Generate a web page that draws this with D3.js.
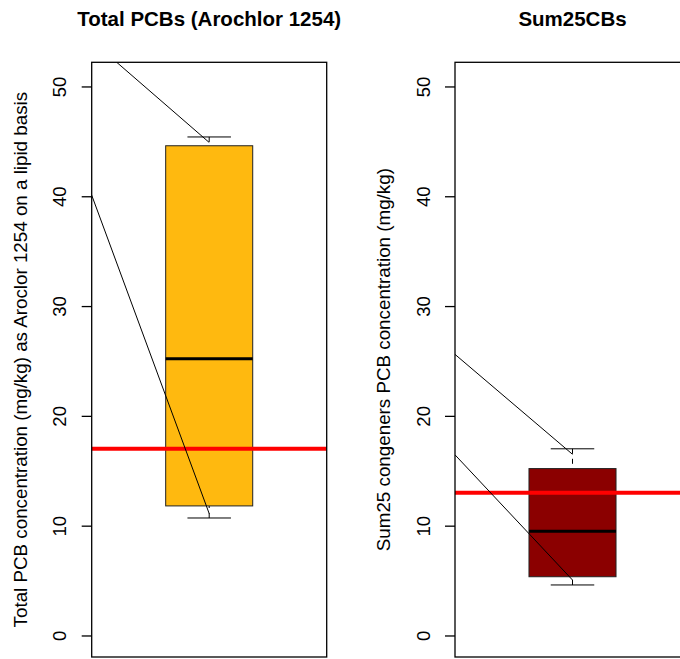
<!DOCTYPE html>
<html>
<head>
<meta charset="utf-8">
<script src="https://cdn.jsdelivr.net/npm/d3@7"></script>
<style>
  body { margin: 0; background: #fff; }
  svg { display: block; font-family: "Liberation Sans", Arial, sans-serif; }
</style>
</head>
<body>
<svg id="chart" width="680" height="659"></svg>
<script>
// panel titles and axis labels
const titles = ["Total PCBs (Arochlor 1254)", "Sum25CBs"];
const yLabels = [
    "Total PCB concentration (mg/kg) as Aroclor 1254 on a lipid basis",
    "Sum25 congeners PCB concentration (mg/kg)"
];
const yTicks = [0, 10, 20, 30, 40, 50];

// box stats: [lower whisker, q1, median, q3, upper whisker]
const boxStats = [
    [10.7, 11.8, 25.2, 44.6, 45.4],
    [4.6, 5.35, 9.5, 15.2, 17.0]
];
const boxColors = ["#FFB90F", "#8B0000"];

// red reference lines (abline h=)
const refLevels = [17.0, 13.0];

// extra segments drawn on each panel: [x0, y0, x1, y1]
const segments = [
    [[0.575, 52.2, 1, 44.9], [0.46, 40.1, 1, 11.1]],
    [[0.46, 25.6, 1, 16.5], [0.46, 16.45, 1, 5.05]]
];

const svg = d3.select("#chart");

const plotTop = 62.3, plotBottom = 657;
const panelLeft = [91.7, 455];
const panelW = 235;

const y = d3.scaleLinear().domain([-1.96, 52.2]).range([plotBottom, plotTop]);

panelLeft.forEach((left, i) => {
    const x = d3.scaleLinear().domain([0.46, 1.54]).range([left, left + panelW]);
    const g = svg.append("g");

    g.append("clipPath").attr("id", "clip" + i)
        .append("rect")
        .attr("x", left).attr("y", plotTop)
        .attr("width", panelW).attr("height", plotBottom - plotTop);

    const plot = g.append("g").attr("clip-path", `url(#clip${i})`);

    const [lo, q1, med, q3, hi] = boxStats[i];
    const bw = 0.4, cw = 0.2;

    // whiskers (dashed, drawn from the end toward the box)
    [[lo, q1], [hi, q3]].forEach(([a, b]) => {
        plot.append("line")
            .attr("x1", x(1)).attr("x2", x(1))
            .attr("y1", y(a)).attr("y2", y(b))
            .attr("stroke", "#000")
            .attr("stroke-dasharray", "5,5");
        plot.append("line")
            .attr("x1", x(1 - cw / 2)).attr("x2", x(1 + cw / 2))
            .attr("y1", y(a)).attr("y2", y(a))
            .attr("stroke", "#000");
    });

    plot.append("rect")
        .attr("x", x(1 - bw / 2))
        .attr("y", y(q3))
        .attr("width", x(1 + bw / 2) - x(1 - bw / 2))
        .attr("height", y(q1) - y(q3))
        .attr("fill", boxColors[i])
        .attr("stroke", "#222")
        .attr("stroke-width", 1);

    plot.append("line")
        .attr("x1", x(1 - bw / 2)).attr("x2", x(1 + bw / 2))
        .attr("y1", y(med)).attr("y2", y(med))
        .attr("stroke", "#000")
        .attr("stroke-width", 3);

    plot.append("line")
        .attr("x1", left).attr("x2", left + panelW)
        .attr("y1", y(refLevels[i])).attr("y2", y(refLevels[i]))
        .attr("stroke", "#FF0000")
        .attr("stroke-width", 4);

    segments[i].forEach(s => {
        plot.append("line")
            .attr("x1", x(s[0])).attr("y1", y(s[1]))
            .attr("x2", x(s[2])).attr("y2", y(s[3]))
            .attr("stroke", "#000")
            .attr("stroke-width", 1);
    });

    // frame
    g.append("rect")
        .attr("x", left).attr("y", plotTop)
        .attr("width", panelW).attr("height", plotBottom - plotTop)
        .attr("fill", "none")
        .attr("stroke", "#000")
        .attr("stroke-width", 1.3);

    // y axis
    const axis = d3.axisLeft(y).tickValues(yTicks).tickSize(10).tickFormat(d3.format("d"));
    const ax = g.append("g")
        .attr("transform", `translate(${left},0)`)
        .call(axis);
    ax.select(".domain").remove();
    ax.selectAll(".tick line").attr("stroke", "#000").attr("stroke-width", 1.3);
    ax.selectAll(".tick text")
        .attr("x", null).attr("dy", null)
        .attr("text-anchor", "middle")
        .attr("transform", "translate(-25.5,0) rotate(-90)")
        .attr("fill", "#000")
        .style("font-size", "18.5px")
        .style("font-family", "'Liberation Sans', Arial, sans-serif");

    g.append("text")
        .attr("transform", `translate(${left - 65},${(plotTop + plotBottom) / 2}) rotate(-90)`)
        .attr("text-anchor", "middle")
        .style("font-size", "18.8px")
        .text(yLabels[i]);

    g.append("text")
        .attr("x", left + panelW / 2)
        .attr("y", 26)
        .attr("text-anchor", "middle")
        .style("font-size", "20.5px")
        .style("font-weight", "bold")
        .text(titles[i]);
});
</script>
</body>
</html>
